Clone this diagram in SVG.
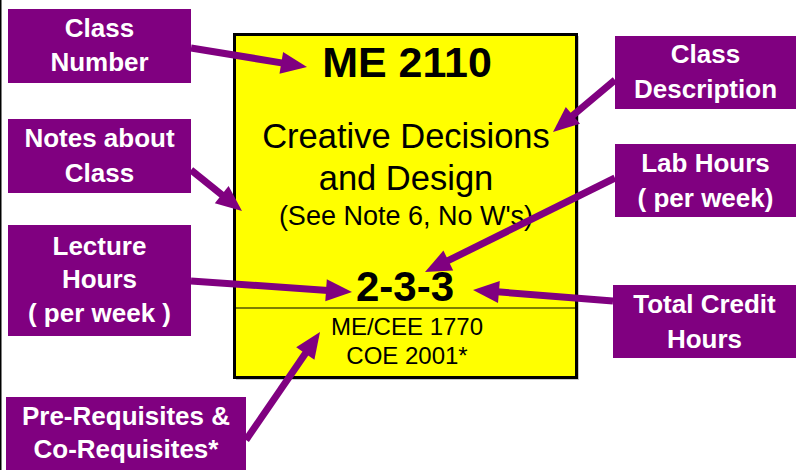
<svg xmlns="http://www.w3.org/2000/svg" width="796" height="470" viewBox="0 0 796 470">
<defs>
<style>
.lbl rect{fill:#800080}
.lbl text{fill:#fff;font-family:"Liberation Sans",Arial,sans-serif;font-weight:bold;font-size:26px;text-anchor:middle}
.card text{fill:#000;font-family:"Liberation Sans",Arial,sans-serif;text-anchor:middle}
.conn line{stroke:#800080;stroke-width:7}
.conn polygon{fill:#800080}
</style>
</defs>
<rect width="796" height="470" fill="#fff"/>
<line x1="0.75" y1="0" x2="0.75" y2="470" stroke="#000" stroke-width="1.5"/>
<g id="card" class="card">
<rect x="236" y="36" width="343" height="344" fill="#c8c8c8"/>
<rect x="234.5" y="34.5" width="342" height="343" fill="#ffff00" stroke="#000" stroke-width="3"/>
<line x1="234" y1="308" x2="577" y2="308" stroke="#000" stroke-width="1.2"/>
<text x="407" y="77" font-weight="bold" font-size="43">ME 2110</text>
<text x="406" y="148" font-size="34.5">Creative Decisions</text>
<text x="406" y="190" font-size="34.5">and Design</text>
<text x="406" y="225" font-size="27">(See Note 6, No W's)</text>
<text x="405" y="301" font-weight="bold" font-size="42">2-3-3</text>
<text x="407" y="335" font-size="24">ME/CEE 1770</text>
<text x="407" y="364" font-size="24">COE 2001*</text>
</g>
<g id="class-number" class="lbl"><rect x="8" y="9" width="183" height="74"/><text x="99.5" y="37">Class</text><text x="99.5" y="71">Number</text></g>
<g id="notes" class="lbl"><rect x="8" y="119" width="183" height="74"/><text x="99.5" y="147">Notes about</text><text x="99.5" y="182">Class</text></g>
<g id="lecture" class="lbl"><rect x="8" y="225" width="183" height="111"/><text x="99.5" y="255">Lecture</text><text x="99.5" y="288">Hours</text><text x="99.5" y="322">( per week )</text></g>
<g id="prereq" class="lbl"><rect x="6" y="397" width="240" height="73"/><text x="126" y="425">Pre-Requisites &amp;</text><text x="126" y="458">Co-Requisites*</text></g>
<g id="class-desc" class="lbl"><rect x="615" y="36" width="181" height="73"/><text x="705.5" y="63">Class</text><text x="705.5" y="98">Description</text></g>
<g id="lab" class="lbl"><rect x="615" y="144" width="181" height="73"/><text x="705.5" y="172">Lab Hours</text><text x="705.5" y="207">( per week)</text></g>
<g id="credit" class="lbl"><rect x="613" y="285" width="183" height="73"/><text x="704.5" y="313">Total Credit</text><text x="704.5" y="348">Hours</text></g>
<g id="connectors" class="conn">
<line x1="191" y1="48" x2="283" y2="63.1"/>
<polygon points="307,67 279.5,73.7 283.1,51.9"/>
<line x1="191" y1="170" x2="223.3" y2="196"/>
<polygon points="242,211 214.8,203.3 228.6,186.1"/>
<line x1="191" y1="281" x2="328" y2="290.4"/>
<polygon points="352,292 325.3,301.2 326.8,279.2"/>
<line x1="246" y1="440" x2="306.4" y2="351.9"/>
<polygon points="320,332 314.4,359.7 296.2,347.3"/>
<line x1="615" y1="80" x2="571.4" y2="116.6"/>
<polygon points="553,132 565.8,106.9 580,123.7"/>
<line x1="615" y1="178" x2="446.5" y2="261.4"/>
<polygon points="425,272 443.4,250.6 453.2,270.4"/>
<line x1="613" y1="301" x2="497" y2="291.8"/>
<polygon points="473,290 499.8,281 498,303"/>
</g>
</svg>
